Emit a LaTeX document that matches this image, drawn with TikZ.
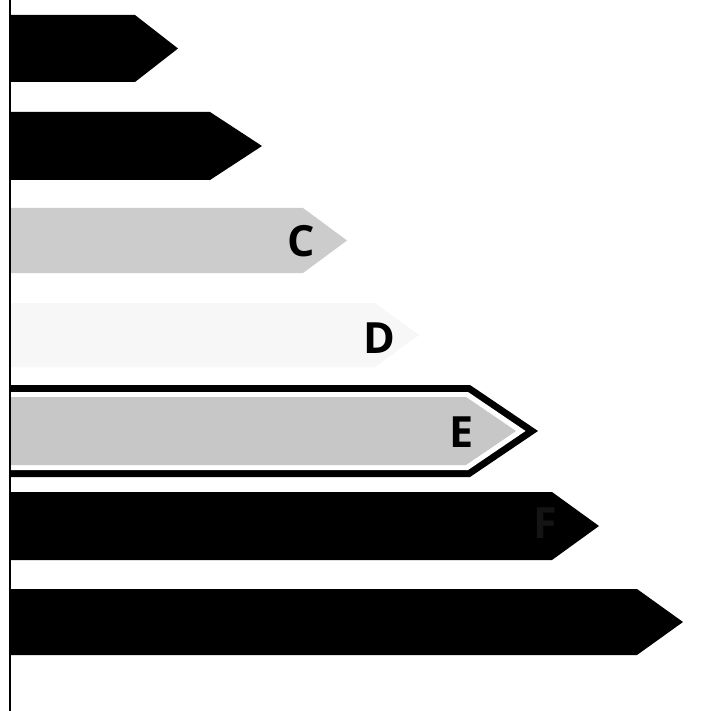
\documentclass[tikz,border=0pt]{standalone}
\usepackage{fontspec}
\newfontfamily\labelfont{Open Sans}
\begin{document}
\begin{tikzpicture}[x=1pt,y=-1pt,
  bar/.style={draw=none},
  lettr/.style={font=\labelfont\bfseries\fontsize{43}{43}\selectfont, inner sep=0pt, anchor=center}]
\useasboundingbox (0,0) rectangle (703,711);
\fill[white] (0,0) rectangle (703,711);
% A
\fill[bar,black] (10,15) -- (135,15) -- (178,48.5) -- (135,82) -- (10,82) -- cycle;
% B
\fill[bar,black] (10,112) -- (210,112) -- (262,146) -- (210,180) -- (10,180) -- cycle;
% C
\fill[bar,black!20] (10,208) -- (303,208) -- (347,240.5) -- (303,273) -- (10,273) -- cycle;
\node[lettr] (c) at (301,241) {C};
% D
\fill[bar,black!3] (10,303) -- (375,303) -- (419,335) -- (375,367) -- (10,367) -- cycle;
\node[lettr] (d) at (379,338) {D};
% E
\fill[bar,black] (10,385) -- (470,385) -- (538,431) -- (470,477) -- (10,477) -- cycle;
\fill[bar,white] (10,392) -- (468,392) -- (525.5,431) -- (468,470) -- (10,470) -- cycle;
\fill[bar,black!22] (10,397) -- (466,397) -- (516,431) -- (466,465) -- (10,465) -- cycle;
\node[lettr] (e) at (462,432) {E};
% F
\fill[bar,black] (10,492) -- (552,492) -- (599,526) -- (552,560) -- (10,560) -- cycle;
\node[lettr,text=black!92] (f) at (545,523) {F};
% G
\fill[bar,black] (10,589) -- (637,589) -- (683,622) -- (637,655) -- (10,655) -- cycle;
% axis line
\draw[line width=1.5pt] (10,0) -- (10,711);
\end{tikzpicture}
\end{document}
